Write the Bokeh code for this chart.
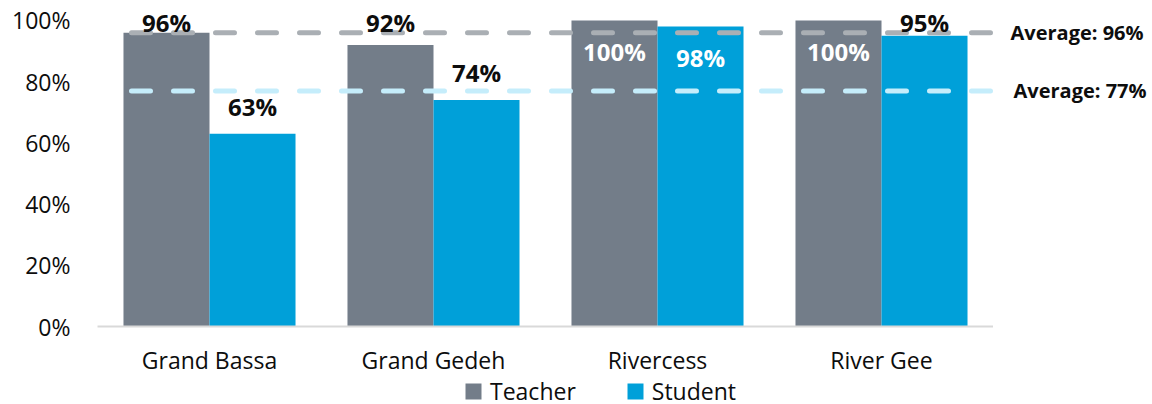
from bokeh.plotting import figure
from bokeh.layouts import row, column
from bokeh.models import (ColumnDataSource, FactorRange, Range1d, Span, Legend,
                          LegendItem, FixedTicker, PrintfTickFormatter)
from bokeh.transform import dodge
from bokeh.core.properties import value
from bokeh.embed import file_html
from bokeh.resources import INLINE

# ---------------- data ----------------
regions = ["Grand Bassa", "Grand Gedeh", "Rivercess", "River Gee"]
series_names = ["Teacher", "Student"]
teacher = [96, 92, 100, 100]
student = [63, 74, 98, 95]
avg_teacher = 96
avg_student = 77
y_ticks = [0, 20, 40, 60, 80, 100]

# ---------------- style ----------------
TEACHER_COLOR = "#737D89"
STUDENT_COLOR = "#00A0D9"
AVG_T_COLOR = "#AAAFB4"
AVG_S_COLOR = "#C5EDFB"
TEXT_COLOR = "#0D0D0D"
FONT = "Open Sans"
BAR_W = 0.384

H_MAIN, H_LEG = 378, 26
TOP, BOTTOM = 8, 52
MAIN_W, SIDE_W = 993, 159
Y_END = 103.92

yr = Range1d(0, Y_END)
p = figure(x_range=FactorRange(*regions), y_range=yr,
           width=MAIN_W, height=H_MAIN, output_backend="svg",
           toolbar_location=None, min_border_left=97, min_border_right=0,
           min_border_top=TOP, min_border_bottom=BOTTOM)
p.outline_line_color = None
p.xgrid.visible = False
p.ygrid.visible = False

# axes
p.yaxis.ticker = FixedTicker(ticks=y_ticks)
p.yaxis.formatter = PrintfTickFormatter(format="%d%%")
p.yaxis.axis_line_color = None
p.yaxis.major_tick_line_color = None
p.yaxis.minor_tick_line_color = None
p.yaxis.major_tick_out = 0
p.yaxis.major_label_standoff = 27
p.yaxis.major_label_text_font = FONT
p.yaxis.major_label_text_font_size = "23px"
p.yaxis.major_label_text_color = TEXT_COLOR

p.xaxis.axis_line_color = "#D9D9D9"
p.xaxis.axis_line_width = 2
p.xaxis.major_tick_line_color = None
p.xaxis.minor_tick_line_color = None
p.xaxis.major_tick_out = 0
p.xaxis.major_label_standoff = 17
p.xaxis.major_label_text_font = FONT
p.xaxis.major_label_text_font_size = "23px"
p.xaxis.major_label_text_color = TEXT_COLOR

# label positions derived from values
def lab_y(v):
    return v - 10 if v >= 98 else min(v + 9, 99.5)

def lab_col(v):
    return "white" if v >= 98 else TEXT_COLOR

src = ColumnDataSource(dict(
    region=regions, teacher=teacher, student=student,
    t_lab=[f"{v}%" for v in teacher], s_lab=[f"{v}%" for v in student],
    t_y=[lab_y(v) for v in teacher], s_y=[lab_y(v) for v in student],
    t_col=[lab_col(v) for v in teacher], s_col=[lab_col(v) for v in student],
))

p.vbar(x=dodge("region", -BAR_W / 2, range=p.x_range), top="teacher",
       width=BAR_W, source=src, fill_color=TEACHER_COLOR, line_color=None)
p.vbar(x=dodge("region", BAR_W / 2, range=p.x_range), top="student",
       width=BAR_W, source=src, fill_color=STUDENT_COLOR, line_color=None)

# average lines (dash pattern without a partial dash at the left edge)
dash = " ".join(["19 23"] * 20 + ["19 60"])
period = 42 * 21 - 23 + 60
averages = [avg_teacher, avg_student]
for avg, col in zip(averages, [AVG_T_COLOR, AVG_S_COLOR]):
    p.add_layout(Span(location=avg, dimension="width", line_color=col,
                      line_width=5, line_dash=dash,
                      line_dash_offset=period - 34, line_cap="round"))

# value labels
for off, ycol, tcol, ccol in [(-BAR_W / 2, "t_y", "t_lab", "t_col"),
                              (BAR_W / 2, "s_y", "s_lab", "s_col")]:
    p.text(x=dodge("region", off, range=p.x_range), y=ycol, text=tcol,
           text_color=ccol, text_font=value(FONT), text_font_style="bold",
           text_font_size="24px", text_align="center", text_baseline="middle",
           source=src, level="overlay")

# side panel with the average labels, sharing the y range
p2 = figure(x_range=Range1d(0, SIDE_W), y_range=yr, width=SIDE_W,
            height=H_MAIN, output_backend="svg", toolbar_location=None,
            x_axis_type=None, y_axis_type=None,
            min_border_left=0, min_border_right=0, min_border_top=TOP,
            min_border_bottom=BOTTOM)
p2.outline_line_color = None
p2.grid.visible = False
avg_src = ColumnDataSource(dict(
    x=[17, 20], y=averages, text=[f"Average: {v}%" for v in averages]))
p2.text(x="x", y="y", text="text", source=avg_src, text_color=TEXT_COLOR,
        text_font=value(FONT), text_font_style="bold", text_font_size="20px",
        text_align="left", text_baseline="middle")

# legend strip
p3 = figure(x_range=Range1d(0, 1), y_range=Range1d(0, 1),
            width=MAIN_W + SIDE_W, height=H_LEG, output_backend="svg",
            toolbar_location=None, x_axis_type=None, y_axis_type=None,
            min_border_left=0, min_border_right=0, min_border_top=0,
            min_border_bottom=0)
p3.outline_line_color = None
p3.grid.visible = False
offscreen = ColumnDataSource(dict(x=[10], top=[1]))
l_t = p3.vbar(x="x", top="top", width=1, source=offscreen,
              fill_color=TEACHER_COLOR, line_color=None)
l_s = p3.vbar(x="x", top="top", width=1, source=offscreen,
              fill_color=STUDENT_COLOR, line_color=None)
legend = Legend(items=[LegendItem(label=series_names[0], renderers=[l_t]),
                       LegendItem(label=series_names[1], renderers=[l_s])],
                orientation="horizontal", location=(463, -3),
                padding=0, margin=0, spacing=49, glyph_width=20,
                glyph_height=20, label_height=20, label_standoff=7,
                label_text_font=FONT, label_text_font_size="23px",
                label_text_color=TEXT_COLOR, border_line_color=None,
                background_fill_alpha=0)
p3.add_layout(legend, "center")

layout = column(row(p, p2, spacing=0), p3, spacing=0)
open("out.html", "w").write(file_html(layout, INLINE))
